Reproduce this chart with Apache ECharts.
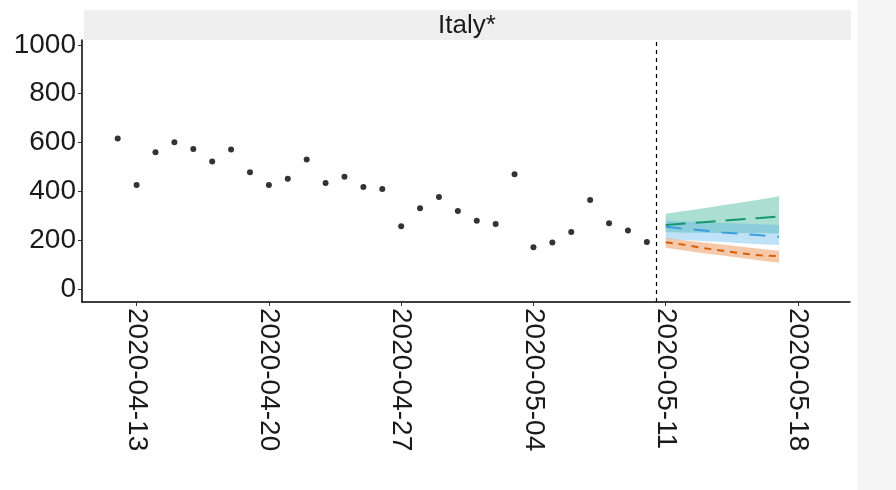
<!DOCTYPE html>
<html><head><meta charset="utf-8">
<script src="https://cdn.jsdelivr.net/npm/echarts@6/dist/echarts.min.js"></script>
<style>html,body{margin:0;padding:0;background:#fff}#c{width:896px;height:490px}</style>
</head><body><div id="c"></div>
<script>
const panelTitle = 'Italy*';
const obsDates = ['2020-04-12','2020-04-13','2020-04-14','2020-04-15','2020-04-16','2020-04-17','2020-04-18','2020-04-19','2020-04-20','2020-04-21','2020-04-22','2020-04-23','2020-04-24','2020-04-25','2020-04-26','2020-04-27','2020-04-28','2020-04-29','2020-04-30','2020-05-01','2020-05-02','2020-05-03','2020-05-04','2020-05-05','2020-05-06','2020-05-07','2020-05-08','2020-05-09','2020-05-10'];
const obsValues = [617,426,560,601,574,522,572,478,426,452,531,434,460,418,410,257,331,377,320,280,266,470,171,191,234,365,270,240,193];
const fcDates = ['2020-05-11','2020-05-12','2020-05-13','2020-05-14','2020-05-15','2020-05-16','2020-05-17'];
const greenMedian = [262,268,274,280,286,291,297];
const greenLower  = [233,232,231,230,230,229,228];
const greenUpper  = [308,320,331,343,355,367,380];
const blueMedian  = [255,247,240,232,226,220,214];
const blueLower   = [205,201,197,193,188,184,180];
const blueUpper   = [280,277,274,271,268,265,262];
const orangeMedian= [192,181,168,157,146,138,135];
const orangeLower = [169,158,147,137,127,117,108];
const orangeUpper = [208,200,191,182,173,165,157];
const xTickLabels = ['2020-04-13','2020-04-20','2020-04-27','2020-05-04','2020-05-11','2020-05-18'];
const yTickValues = [0,200,400,600,800,1000];
const forecastStart = '2020-05-10T12:00:00Z';
const xRange = ['2020-04-10T02:40:00Z','2020-05-20T18:00:00Z'];
const yRange = [-53, 1020];

const ts = s => new Date(s.length === 10 ? s + 'T00:00:00Z' : s).getTime();
const fmtDate = v => new Date(v).toISOString().slice(0, 10);
const FONT = 'Liberation Sans, Arial, sans-serif';

function band(lower, upper, fill) {
  return {
    type: 'custom', silent: true, z: 1,
    data: fcDates.map((d, i) => [ts(d), lower[i], upper[i]]),
    encode: { x: 0, y: [1, 2] },
    renderItem: function (params, api) {
      if (params.dataIndex !== 0) return null;
      const top = fcDates.map((d, i) => api.coord([ts(d), upper[i]]));
      const bot = fcDates.map((d, i) => api.coord([ts(d), lower[i]])).reverse();
      return { type: 'polygon', shape: { points: top.concat(bot) }, style: { fill: fill } };
    }
  };
}
function median(vals, color, dash) {
  return {
    type: 'line', z: 3, showSymbol: false, symbol: 'none',
    data: fcDates.map((d, i) => [ts(d), vals[i]]),
    lineStyle: { color: color, width: 2, type: dash }
  };
}

const chart = echarts.init(document.getElementById('c'), null, { renderer: 'canvas' });
chart.setOption({
  animation: false,
  backgroundColor: '#ffffff',
  grid: { left: 82, right: 46, top: 40, bottom: 188, containLabel: false },
  xAxis: {
    type: 'value', min: ts(xRange[0]), max: ts(xRange[1]), scale: true,
    axisLine: { show: true, onZero: false, lineStyle: { color: '#000', width: 1.5 } },
    axisTick: { show: true, customValues: xTickLabels.map(ts), length: 4, lineStyle: { color: '#333' } },
    axisLabel: {
      customValues: xTickLabels.map(ts), rotate: -90, margin: 6,
      fontSize: 28, fontFamily: FONT, color: '#1a1a1a',
      formatter: v => fmtDate(v)
    },
    splitLine: { show: false }
  },
  yAxis: {
    type: 'value', min: yRange[0], max: yRange[1],
    axisLine: { show: true, onZero: false, lineStyle: { color: '#000', width: 1.5 } },
    axisTick: { show: true, customValues: yTickValues, length: 4, lineStyle: { color: '#333' } },
    axisLabel: { customValues: yTickValues, margin: 6, fontSize: 28, fontFamily: FONT, color: '#1a1a1a', formatter: v => String(v) },
    splitLine: { show: false }
  },
  graphic: [
    { type: 'rect', shape: { x: 858, y: 0, width: 38, height: 490 }, style: { fill: '#f5f5f5' }, silent: true },
    { type: 'rect', shape: { x: 84, y: 10, width: 767, height: 30 }, style: { fill: '#efefef' }, silent: true },
    { type: 'text', x: 467, y: 26, silent: true,
      style: { text: panelTitle, font: '26px ' + FONT, fill: '#1a1a1a', textAlign: 'center', textVerticalAlign: 'middle', align: 'center', verticalAlign: 'middle' } }
  ],
  series: [
    band(greenLower, greenUpper, 'rgba(0,158,115,0.33)'),
    band(blueLower, blueUpper, 'rgba(86,180,233,0.38)'),
    band(orangeLower, orangeUpper, 'rgba(226,110,30,0.38)'),
    median(greenMedian, '#15976d', [20, 10]),
    median(blueMedian, '#3d9ddb', [16, 12]),
    median(orangeMedian, '#d5600c', [7, 6]),
    {
      type: 'scatter', z: 4, symbol: 'circle', symbolSize: 6,
      itemStyle: { color: '#000' },
      data: obsDates.map((d, i) => [ts(d), obsValues[i]]),
      markLine: {
        silent: true, symbol: 'none', label: { show: false },
        lineStyle: { color: '#000', type: [4, 4], width: 1.2 },
        data: [{ xAxis: ts(forecastStart) }]
      }
    }
  ]
});
</script></body></html>
